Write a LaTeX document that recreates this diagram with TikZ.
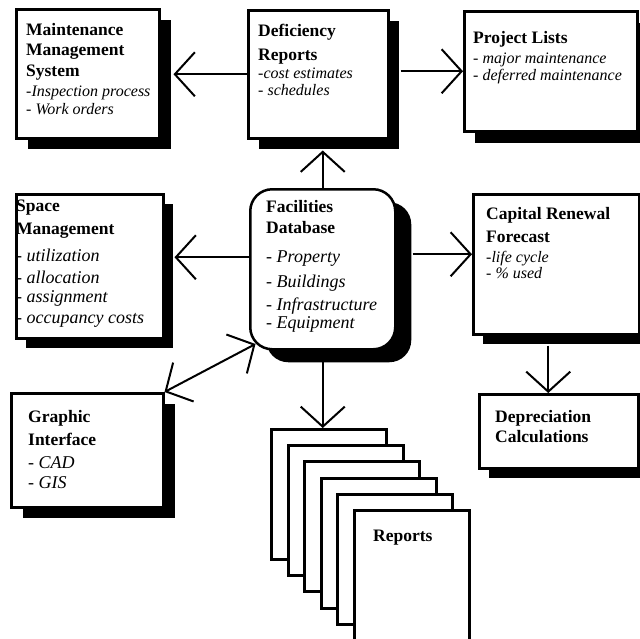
\documentclass[tikz,border=0pt]{standalone}
\usepackage{fontspec}
\setmainfont{Liberation Serif}
\usetikzlibrary{arrows.meta,shadows}
\newcommand\itl[2]{{\mdseries\itshape\fontsize{#1}{#1}\selectfont #2}}
\begin{document}
\begin{tikzpicture}[x=1pt,y=-1pt,
  box/.style={draw, line width=2.5pt, fill=white, anchor=north west, inner sep=0pt},
  shd/.style 2 args={drop shadow={shadow xshift=#1pt, shadow yshift=-#2pt, fill=black, opacity=1}},
  page/.style={draw, line width=3pt, fill=white, anchor=north west, inner sep=0pt,
    minimum width=115pt, minimum height=130pt},
  txt/.style={anchor=north west, align=left, inner sep=0pt, font=\bfseries\fontsize{17.5}{20}\selectfont},
  conn/.style={line width=2pt},
  arr/.style={conn, -{Straight Barb[length=20pt, width=44pt, line width=2pt]}},
  arrb/.style={conn, {Straight Barb[length=20pt, width=44pt, line width=2pt]}-{Straight Barb[length=20pt, width=44pt, line width=2pt]}}]
\useasboundingbox (0,0) rectangle (640,638);
\clip (0,0) rectangle (640,638);
\fill[white] (0,0) rectangle (640,638);

% boxes
\node[box, shd={12}{11}, minimum width=143pt, minimum height=129pt] (mms) at (15,8) {};
\node[box, shd={11}{11}, minimum width=140pt, minimum height=128pt] (def) at (247,9) {};
\node[box, shd={11}{12}, minimum width=173pt, minimum height=120pt] (prj) at (463,10) {};
\node[box, shd={10}{10}, minimum width=147pt, minimum height=144pt] (spc) at (15,193) {};
\node[box, shd={16}{13}, rounded corners=22pt, minimum width=145pt, minimum height=160pt] (fac) at (249,188) {};
\node[box, shd={10}{10}, minimum width=166pt, minimum height=140pt] (cap) at (472,193) {};
\node[box, shd={10}{10}, minimum width=159pt, minimum height=74pt] (dep) at (478,393) {};
\node[box, shd={12}{11}, minimum width=152pt, minimum height=114pt] (gra) at (10,392) {};

% report pages
\foreach \i in {0,...,5}{
  \node[page] (p\i) at ({270+16.6*\i},{428+16.2*\i}) {};
}

% texts
\node[txt] (mmsT) at (26,23) {Maintenance\\Management\\[1pt]System\\\itl{16}{-Inspection process}\\[-2pt]\itl{16}{- Work orders}};
\node[txt] (defT) at (258,24) {Deficiency\\[4pt]Reports\\[-2pt]\itl{16}{-cost estimates}\\[-3pt]\itl{16}{- schedules}};
\node[txt] (prjT) at (473,31) {Project Lists\\\itl{16}{- major maintenance}\\[-3pt]\itl{16}{- deferred maintenance}};
\node[txt] (spcT) at (16,200) {Space\\[3pt]Management\\[7pt]\itl{18}{- utilization}\\[2pt]\itl{18}{- allocation}\\[-1pt]\itl{18}{- assignment}\\[1pt]\itl{18}{- occupancy costs}};
\node[txt] (facT) at (266,200) {Facilities\\[1pt]Database\\[9pt]\itl{18}{- Property}\\[5pt]\itl{18}{- Buildings}\\[3pt]\itl{18}{- Infrastructure}\\[-2pt]\itl{18}{- Equipment}};
\node[txt] (capT) at (486,207) {Capital Renewal\\[3pt]Forecast\\\itl{16}{-life cycle}\\[-4pt]\itl{16}{- \% used}};
\node[txt] (depT) at (495,410) {Depreciation\\Calculations};
\node[txt] (graT) at (28,410) {Graphic\\[3pt]Interface\\[3pt]\itl{18}{- CAD}\\\itl{18}{- GIS}};
\node[txt] (repT) at (373,530) {Reports};

% shadow edge coordinates
\coordinate (mmsS) at ([xshift=13pt]mms.east);
\coordinate (defE) at ([xshift=11pt]def.east);
\coordinate (defS) at ([yshift=-11pt]def.south);
\coordinate (spcS) at ([xshift=10pt]spc.east);
\coordinate (facE) at ([xshift=16pt,yshift=15pt]fac.east);
\coordinate (facW) at ([yshift=12pt]fac.west);
\coordinate (facC) at ([shift={(6.5,-6.5)}]fac.south west);
\coordinate (capS) at ([xshift=-8pt,yshift=-10pt]cap.south);

% connectors
\draw[arr] (def.west) -- (def.west -| mmsS);
\draw[arr] (defE |- prj.west) -- (prj.west);
\draw[arr] (fac.north) -- (fac.north |- defS);
\draw[arr] (facW) -- (facW -| spcS);
\draw[arr] (facE) -- (facE -| cap.west);
\draw[arrb] (facC) -- (gra.north east);
\draw[arr] (fac.south) -- (fac.south |- p0.north);
\draw[arr] (capS) -- (capS |- dep.north);
\end{tikzpicture}
\end{document}
